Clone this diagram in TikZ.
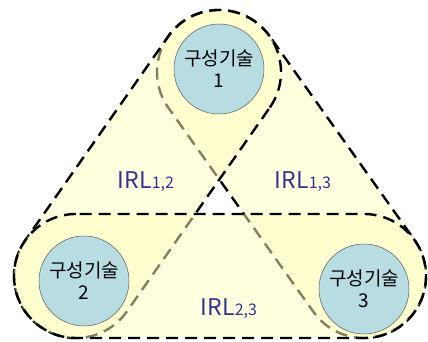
\documentclass[tikz,border=0pt]{standalone}
\usepackage{fontspec}
\newfontfamily\kr{Noto Sans CJK KR}
\usepackage{tikz}
\usetikzlibrary{calc}
\definecolor{capfill}{RGB}{255,255,193}
\definecolor{techfill}{RGB}{183,221,227}
\definecolor{irlblue}{RGB}{51,51,150}
\newcommand{\capr}{62}

\begin{document}
\begin{tikzpicture}[x=1pt,y=1pt,
  capsule/.style={draw=black,line width=2.4pt,dash pattern=on 12pt off 7pt,fill=capfill,fill opacity=0.5,draw opacity=1},
  tech/.style={circle,draw=black!65,line width=0.5pt,fill=techfill,minimum size=90pt,inner sep=0pt,align=center,font=\kr\fontsize{19}{22}\selectfont},
  irl/.style={text=irlblue,font=\kr\fontsize{23}{26}\selectfont}]
\useasboundingbox (0,0) rectangle (428,342);
\coordinate (e1) at (219,270);
\coordinate (e2) at (76,66);
\coordinate (e3) at (364,66);
\draw[capsule] let \p1=($(e3)-(e1)$), \n1={atan2(\y1,\x1)} in
  ($(e1)+(\n1+90:\capr)$) arc[start angle=\n1+90,delta angle=180,radius=\capr]
  -- ($(e3)+(\n1-90:\capr)$) arc[start angle=\n1-90,delta angle=180,radius=\capr] -- cycle;
\draw[capsule] let \p1=($(e2)-(e1)$), \n1={atan2(\y1,\x1)} in
  ($(e1)+(\n1+90:\capr)$) arc[start angle=\n1+90,delta angle=180,radius=\capr]
  -- ($(e2)+(\n1-90:\capr)$) arc[start angle=\n1-90,delta angle=180,radius=\capr] -- cycle;
\draw[capsule] let \p1=($(e3)-(e2)$), \n1={atan2(\y1,\x1)} in
  ($(e2)+(\n1+90:\capr)$) arc[start angle=\n1+90,delta angle=180,radius=\capr]
  -- ($(e3)+(\n1-90:\capr)$) arc[start angle=\n1-90,delta angle=180,radius=\capr] -- cycle;
\node[tech] (t1) at (219,273) {구성기술\\1};
\node[tech] (t2) at (84,61) {구성기술\\2};
\node[tech] (t3) at (364,53) {구성기술\\3};
\node[irl] (irl12) at (146,160) {IRL{\fontsize{16}{16}\selectfont 1,2}};
\node[irl] (irl13) at (303,160) {IRL{\fontsize{16}{16}\selectfont 1,3}};
\node[irl] (irl23) at (229,33) {IRL{\fontsize{16}{16}\selectfont 2,3}};
\end{tikzpicture}
\end{document}
